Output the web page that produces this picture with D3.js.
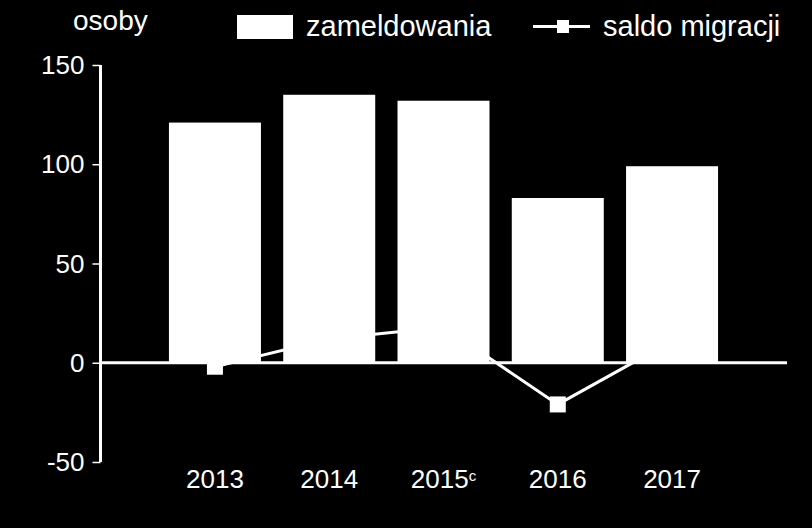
<!DOCTYPE html>
<html><head><meta charset="utf-8">
<script src="https://cdn.jsdelivr.net/npm/d3@7"></script>
<style>body{margin:0;background:#000}svg{display:block}text{font-family:"Liberation Sans",Arial,sans-serif;fill:#fff}</style>
</head><body>
<script>
const categories = ["2013","2014","2015","2016","2017"];
const categorySup = ["","","c","",""];
const zameldowania = [121,135,132,83,99];
const saldoMigracji = [-2,12,18,-21,11];
const yTicks = [-50,0,50,100,150];
const seriesNames = ["zameldowania","saldo migracji"];
const unitLabel = "osoby";

const W=812,H=528;
const svg=d3.select("body").append("svg").attr("width",W).attr("height",H);
svg.append("rect").attr("width",W).attr("height",H).attr("fill","#000");

const y=d3.scaleLinear().domain([-50,150]).range([462,65]);
const x=d3.scaleBand().domain(categories).range([157.8,729.2]).paddingInner(0.195).paddingOuter(0.0975);
const cx=d=>x(d)+x.bandwidth()/2;

// y axis
const yAxis=d3.axisLeft(y).tickValues(yTicks).tickSize(8).tickPadding(8).tickFormat(d=>String(d));
const ga=svg.append("g").attr("transform","translate(100.5,0)").call(yAxis);
ga.select(".domain").attr("stroke","#fff").attr("stroke-width",3).attr("d","M0,"+y(-50)+"V"+y(150));
ga.selectAll(".tick line").attr("stroke","#fff").attr("stroke-width",1.5);
ga.selectAll(".tick text").style("font-size","26px").attr("fill","#fff").attr("dy","0.33em");

// line (behind bars)
const line=d3.line().x((d,i)=>cx(categories[i])).y(d=>y(d));
svg.append("path").datum(saldoMigracji).attr("d",line).attr("fill","none").attr("stroke","#fff").attr("stroke-width",3);
svg.selectAll("rect.mk").data(saldoMigracji).join("rect").attr("class","mk")
  .attr("x",(d,i)=>cx(categories[i])-8).attr("y",d=>y(d)-8).attr("width",16).attr("height",16).attr("fill","#fff");

// bars
svg.selectAll("rect.bar").data(zameldowania).join("rect").attr("class","bar")
  .attr("x",(d,i)=>x(categories[i])).attr("width",x.bandwidth())
  .attr("y",d=>y(Math.max(0,d))).attr("height",d=>Math.abs(y(d)-y(0))).attr("fill","#fff");

// zero line
svg.append("line").attr("x1",100).attr("x2",787).attr("y1",y(0)).attr("y2",y(0)).attr("stroke","#fff").attr("stroke-width",3);

// x labels
const xl=svg.selectAll("text.xl").data(categories).join("text").attr("class","xl")
  .attr("x",d=>cx(d)).attr("y",488).attr("text-anchor","middle").style("font-size","26px");
xl.append("tspan").text(d=>d);
xl.append("tspan").text((d,i)=>categorySup[i]).style("font-size","15px").attr("dy",(d,i)=>categorySup[i]?"-7":null);

// unit label
svg.append("text").attr("x",73).attr("y",30).style("font-size","28px").text(unitLabel);

// legend
svg.append("rect").attr("x",237).attr("y",15).attr("width",56).attr("height",24).attr("fill","#fff");
svg.append("text").attr("x",306).attr("y",36).style("font-size","29px").text(seriesNames[0]);
svg.append("line").attr("x1",533).attr("x2",590).attr("y1",26.5).attr("y2",26.5).attr("stroke","#fff").attr("stroke-width",3);
svg.append("rect").attr("x",557).attr("y",20).attr("width",12).attr("height",13).attr("fill","#fff");
svg.append("text").attr("x",603).attr("y",36).style("font-size","29px").text(seriesNames[1]);
</script>
</body></html>
